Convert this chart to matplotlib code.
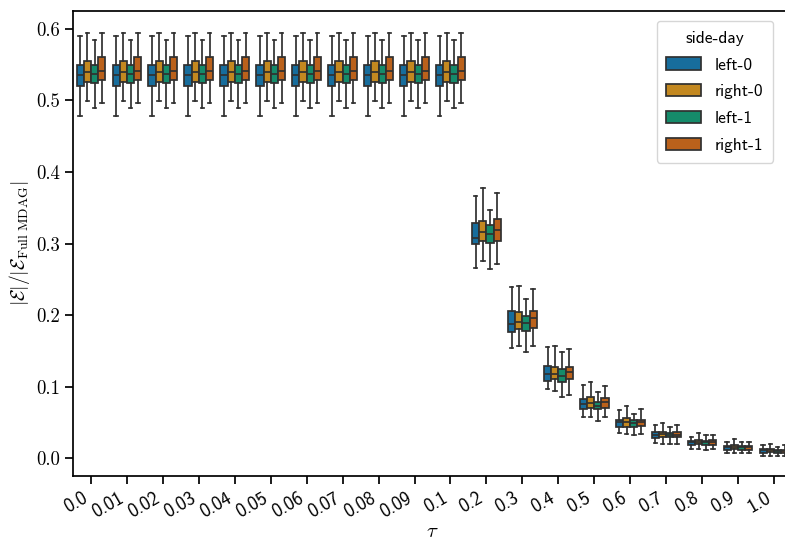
import colorsys
import numpy as np
import matplotlib
matplotlib.use("Agg")
import matplotlib.pyplot as plt
from matplotlib.patches import Patch

plt.rcParams['mathtext.fontset'] = 'cm'

TAU = ['0.0', '0.01', '0.02', '0.03', '0.04', '0.05', '0.06', '0.07', '0.08', '0.09',
       '0.1', '0.2', '0.3', '0.4', '0.5', '0.6', '0.7', '0.8', '0.9', '1.0']
HUES = ['left-0', 'right-0', 'left-1', 'right-1']
PALETTE = ['#0173b2', '#de8f05', '#029e73', '#d55e00']

# box statistics, one value per tau
left0_med = [0.536, 0.536, 0.536, 0.536, 0.536, 0.536, 0.536, 0.536, 0.536, 0.536, 0.536,
             0.308, 0.187, 0.117, 0.075, 0.050, 0.033, 0.022, 0.015, 0.011]
left0_q1 = [0.520, 0.520, 0.520, 0.520, 0.520, 0.520, 0.520, 0.520, 0.520, 0.520, 0.520,
            0.299, 0.177, 0.108, 0.069, 0.043, 0.028, 0.019, 0.012, 0.007]
left0_q3 = [0.549, 0.549, 0.549, 0.549, 0.549, 0.549, 0.549, 0.549, 0.549, 0.549, 0.549,
            0.329, 0.205, 0.129, 0.083, 0.054, 0.036, 0.024, 0.017, 0.0126]
left0_lo = [0.479, 0.479, 0.479, 0.479, 0.479, 0.479, 0.479, 0.479, 0.479, 0.479, 0.479,
            0.266, 0.154, 0.096, 0.058, 0.035, 0.021, 0.013, 0.007, 0.003]
left0_hi = [0.590, 0.590, 0.590, 0.590, 0.590, 0.590, 0.590, 0.590, 0.590, 0.590, 0.590,
            0.366, 0.239, 0.155, 0.102, 0.067, 0.046, 0.030, 0.023, 0.019]

right0_med = [0.540, 0.540, 0.540, 0.540, 0.540, 0.540, 0.540, 0.540, 0.540, 0.540, 0.540,
              0.316, 0.191, 0.117, 0.077, 0.051, 0.034, 0.023, 0.016, 0.011]
right0_q1 = [0.526, 0.526, 0.526, 0.526, 0.526, 0.526, 0.526, 0.526, 0.526, 0.526, 0.526,
             0.303, 0.180, 0.111, 0.070, 0.044, 0.029, 0.020, 0.013, 0.008]
right0_q3 = [0.555, 0.555, 0.555, 0.555, 0.555, 0.555, 0.555, 0.555, 0.555, 0.555, 0.555,
             0.332, 0.204, 0.128, 0.085, 0.056, 0.037, 0.026, 0.018, 0.013]
right0_lo = [0.499, 0.499, 0.499, 0.499, 0.499, 0.499, 0.499, 0.499, 0.499, 0.499, 0.499,
             0.276, 0.157, 0.094, 0.057, 0.034, 0.020, 0.013, 0.007, 0.003]
right0_hi = [0.594, 0.594, 0.594, 0.594, 0.594, 0.594, 0.594, 0.594, 0.594, 0.594, 0.594,
             0.377, 0.240, 0.157, 0.106, 0.073, 0.049, 0.035, 0.027, 0.020]

left1_med = [0.537, 0.537, 0.537, 0.537, 0.537, 0.537, 0.537, 0.537, 0.537, 0.537, 0.537,
             0.314, 0.189, 0.115, 0.073, 0.049, 0.032, 0.022, 0.015, 0.010]
left1_q1 = [0.525, 0.525, 0.525, 0.525, 0.525, 0.525, 0.525, 0.525, 0.525, 0.525, 0.525,
            0.301, 0.178, 0.107, 0.068, 0.044, 0.029, 0.019, 0.012, 0.007]
left1_q3 = [0.549, 0.549, 0.549, 0.549, 0.549, 0.549, 0.549, 0.549, 0.549, 0.549, 0.549,
            0.326, 0.198, 0.124, 0.079, 0.053, 0.035, 0.024, 0.017, 0.012]
left1_lo = [0.489, 0.489, 0.489, 0.489, 0.489, 0.489, 0.489, 0.489, 0.489, 0.489, 0.489,
            0.264, 0.148, 0.086, 0.052, 0.033, 0.020, 0.012, 0.007, 0.003]
left1_hi = [0.585, 0.585, 0.585, 0.585, 0.585, 0.585, 0.585, 0.585, 0.585, 0.585, 0.585,
            0.347, 0.222, 0.149, 0.093, 0.062, 0.044, 0.032, 0.022, 0.016]

right1_med = [0.541, 0.541, 0.541, 0.541, 0.541, 0.541, 0.541, 0.541, 0.541, 0.541, 0.541,
              0.319, 0.196, 0.120, 0.078, 0.051, 0.033, 0.022, 0.015, 0.010]
right1_q1 = [0.529, 0.529, 0.529, 0.529, 0.529, 0.529, 0.529, 0.529, 0.529, 0.529, 0.529,
             0.303, 0.182, 0.111, 0.070, 0.045, 0.029, 0.019, 0.012, 0.007]
right1_q3 = [0.561, 0.561, 0.561, 0.561, 0.561, 0.561, 0.561, 0.561, 0.561, 0.561, 0.561,
             0.334, 0.206, 0.128, 0.084, 0.054, 0.036, 0.025, 0.017, 0.012]
right1_lo = [0.496, 0.496, 0.496, 0.496, 0.496, 0.496, 0.496, 0.496, 0.496, 0.496, 0.496,
             0.272, 0.157, 0.088, 0.057, 0.034, 0.020, 0.013, 0.007, 0.003]
right1_hi = [0.594, 0.594, 0.594, 0.594, 0.594, 0.594, 0.594, 0.594, 0.594, 0.594, 0.594,
             0.370, 0.236, 0.153, 0.101, 0.069, 0.047, 0.033, 0.022, 0.018]

Y_TICKS = [0.0, 0.1, 0.2, 0.3, 0.4, 0.5, 0.6]

SERIES = [
    (left0_med, left0_q1, left0_q3, left0_lo, left0_hi),
    (right0_med, right0_q1, right0_q3, right0_lo, right0_hi),
    (left1_med, left1_q1, left1_q3, left1_lo, left1_hi),
    (right1_med, right1_q1, right1_q3, right1_lo, right1_hi),
]


def desaturate(color, prop):
    r, g, b = matplotlib.colors.to_rgb(color)
    h, l, s = colorsys.rgb_to_hls(r, g, b)
    return colorsys.hls_to_rgb(h, l, s * prop)


colors = [desaturate(c, 0.75) for c in PALETTE]
lum = min(colorsys.rgb_to_hls(*c)[1] for c in colors) * 0.6
gray = (lum, lum, lum)
lw = 1.25

fig = plt.figure(figsize=(7.85, 5.4), dpi=100)
ax = fig.add_axes([0.093, 0.1185, 0.9159, 0.861])

n_hue = len(HUES)
box_w = 0.8 / n_hue
for i, (med, q1, q3, lo, hi) in enumerate(SERIES):
    stats = []
    for k in range(len(TAU)):
        stats.append(dict(med=med[k], q1=q1[k], q3=q3[k], whislo=lo[k], whishi=hi[k]))
    pos = np.arange(len(TAU)) - 0.4 + box_w * (i + 0.5)
    ax.bxp(stats, positions=pos, widths=box_w, patch_artist=True, showfliers=False,
           manage_ticks=False,
           boxprops=dict(facecolor=colors[i], edgecolor=gray, linewidth=lw),
           medianprops=dict(color=gray, linewidth=lw),
           whiskerprops=dict(color=gray, linewidth=lw),
           capprops=dict(color=gray, linewidth=lw))

ax.set_xlim(-0.5, len(TAU) - 0.5)
ax.set_ylim(-0.025, 0.625)
ax.set_xticks(range(len(TAU)))
ax.set_xticklabels(TAU, rotation=30, ha='right', family='cmss10', fontsize=13.5)
ax.set_yticks(Y_TICKS)
ax.set_yticklabels([f'{v:.1f}' for v in Y_TICKS], family='cmr10', fontsize=13.5)
ax.tick_params(length=6, width=1.25)
for sp in ax.spines.values():
    sp.set_linewidth(1.25)

ax.set_xlabel(r'$\tau$', fontsize=15, labelpad=0)
ax.set_ylabel(r'$|\mathcal{E}|/|\mathcal{E}_{\mathrm{Full\ MDAG}}|$', fontsize=14, labelpad=3)

handles = [Patch(facecolor=colors[i], edgecolor=gray, linewidth=lw) for i in range(n_hue)]
leg = ax.legend(handles, HUES, title='side-day', loc='upper right',
                bbox_to_anchor=(773 / 785, 1 - 21 / 540), bbox_transform=fig.transFigure,
                borderaxespad=0, labelspacing=0.68, borderpad=0.55,
                prop=dict(family='cmss10', size=12.5),
                title_fontproperties=dict(family='cmss10', size=12.5))

fig.savefig('out.png', dpi=100)
